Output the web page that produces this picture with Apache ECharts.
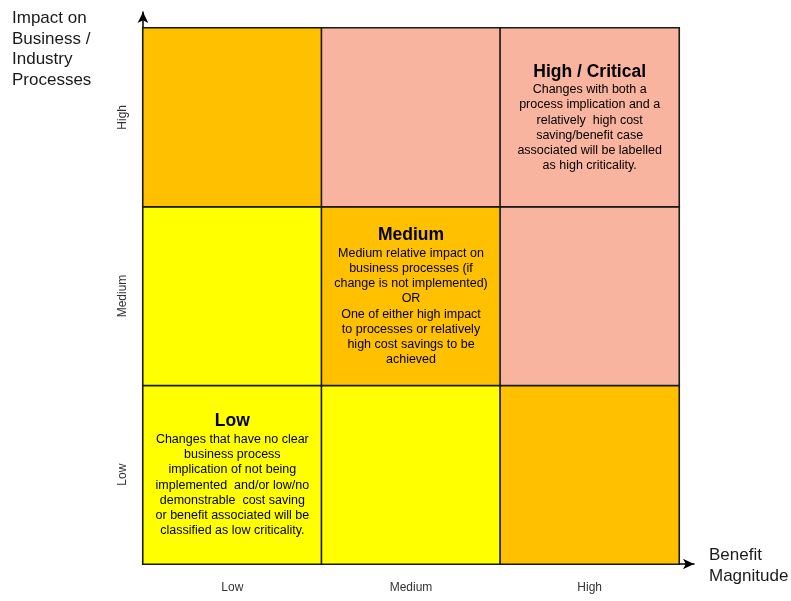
<!DOCTYPE html>
<html>
<head>
<meta charset="utf-8">
<script src="https://cdn.jsdelivr.net/npm/echarts@6/dist/echarts.min.js"></script>
<style>html,body{margin:0;padding:0;background:#fff;}#c{width:791px;height:601px;}</style>
</head>
<body>
<div id="c"></div>
<script>
const xCategories = ['Low', 'Medium', 'High'];
const yCategories = ['Low', 'Medium', 'High'];
// level per cell: rows = y (Low, Medium, High), columns = x (Low, Medium, High)
const levelRowLow = [1, 1, 2];
const levelRowMedium = [1, 2, 3];
const levelRowHigh = [2, 3, 3];
const levelColors = { 1: '#FFFF00', 2: '#FFC000', 3: '#F9B4A0' };
const yAxisTitle = 'Impact on\nBusiness /\nIndustry\nProcesses';
const xAxisTitle = 'Benefit\nMagnitude';
const lowTitle = 'Low';
const lowText = ['Changes that have no clear', 'business process', 'implication of not being', 'implemented  and/or low/no', 'demonstrable  cost saving', 'or benefit associated will be', 'classified as low criticality.'];
const mediumTitle = 'Medium';
const mediumText = ['Medium relative impact on', 'business processes (if', 'change is not implemented)', 'OR', 'One of either high impact', 'to processes or relatively', 'high cost savings to be', 'achieved'];
const highTitle = 'High / Critical';
const highText = ['Changes with both a', 'process implication and a', 'relatively  high cost', 'saving/benefit case', 'associated will be labelled', 'as high criticality.'];

const FONT = '"Liberation Sans", Arial, sans-serif';
const rows = [levelRowLow, levelRowMedium, levelRowHigh];
const labelsByCell = {
  '0_0': [lowTitle, lowText],
  '1_1': [mediumTitle, mediumText],
  '2_2': [highTitle, highText]
};
const data = [];
rows.forEach((row, y) => row.forEach((lv, x) => data.push([x, y, lv])));

const chart = echarts.init(document.getElementById('c'));
chart.setOption({
  animation: false,
  backgroundColor: '#fff',
  title: [
    { text: yAxisTitle, left: 12, top: 8, padding: 0, textStyle: { fontFamily: FONT, fontSize: 17, fontWeight: 'normal', color: '#1a1a1a', lineHeight: 20.7 } },
    { text: xAxisTitle, left: 709, top: 545, padding: 0, textStyle: { fontFamily: FONT, fontSize: 17, fontWeight: 'normal', color: '#1a1a1a', lineHeight: 20.7 } }
  ],
  grid: [
    { left: 143, top: 28, width: 536, height: 536 },
    { left: 143, top: 12, width: 551, height: 552 }
  ],
  xAxis: [
    { type: 'category', data: xCategories, gridIndex: 0, axisLine: { show: false }, axisTick: { show: false }, splitLine: { show: false },
      axisLabel: { fontFamily: FONT, fontSize: 12, color: '#333', margin: 18 } },
    { type: 'value', gridIndex: 1, min: 0, max: 1, axisLabel: { show: false }, axisTick: { show: false }, splitLine: { show: false },
      axisLine: { show: true, onZero: false, symbol: ['none', 'arrow'], symbolSize: [8, 11], lineStyle: { color: '#000', width: 1.5 } } }
  ],
  yAxis: [
    { type: 'category', data: yCategories, gridIndex: 0, axisLine: { show: false }, axisTick: { show: false }, splitLine: { show: false },
      axisLabel: { fontFamily: FONT, fontSize: 12, color: '#333', rotate: 90, margin: 14 } },
    { type: 'value', gridIndex: 1, min: 0, max: 1, axisLabel: { show: false }, axisTick: { show: false }, splitLine: { show: false },
      axisLine: { show: true, onZero: false, symbol: ['none', 'arrow'], symbolSize: [8, 11], lineStyle: { color: '#000', width: 1.5 } } }
  ],
  visualMap: {
    type: 'piecewise', show: false, dimension: 2, seriesIndex: 0,
    pieces: [
      { value: 1, color: levelColors[1] },
      { value: 2, color: levelColors[2] },
      { value: 3, color: levelColors[3] }
    ]
  },
  series: [{
    type: 'heatmap',
    xAxisIndex: 0, yAxisIndex: 0,
    data: data,
    itemStyle: { borderColor: '#1a1a1a', borderWidth: 1.6 },
    emphasis: { disabled: true },
    label: {
      show: true,
      fontFamily: FONT,
      color: '#000',
      formatter: function (p) {
        const key = p.data[0] + '_' + p.data[1];
        const l = labelsByCell[key];
        if (!l) return '';
        return '{t|' + l[0] + '}\n' + l[1].map(s => '{b|' + s + '}').join('\n');
      },
      rich: {
        t: { fontFamily: FONT, fontSize: 17.5, fontWeight: 'bold', color: '#000', lineHeight: 21, align: 'center' },
        b: { fontFamily: FONT, fontSize: 12.5, color: '#000', lineHeight: 15.2, align: 'center' }
      }
    }
  }]
});
</script>
</body>
</html>
